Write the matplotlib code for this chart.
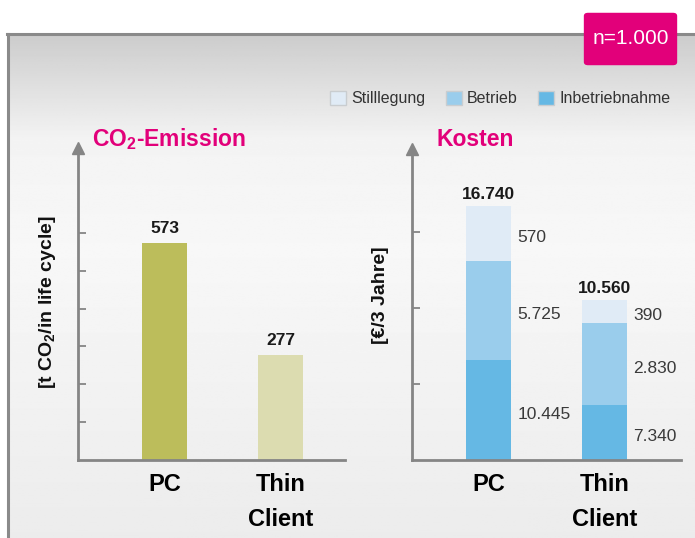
import matplotlib.pyplot as plt
import numpy as np
from matplotlib.patches import Patch, FancyBboxPatch

# data
categories = ["PC", "Thin\nClient"]
co2_values = [573, 277]
co2_ticks = [100, 200, 300, 400, 500, 600]

cost_totals = [16740, 10560]
inbetrieb_labels = [10445, 7340]
betrieb_labels = [5725, 2830]
stilllegung_labels = [570, 390]
# segment heights as drawn in the reference (not to scale with the labels)
inbetrieb_drawn = [6590, 3625]
betrieb_drawn = [6525, 5410]
stilllegung_drawn = [3625, 1525]
cost_ticks = [5000, 10000, 15000]

legend_names = ["Stilllegung", "Betrieb", "Inbetriebnahme"]

FAM = ["Liberation Sans Narrow", "Liberation Sans", "DejaVu Sans"]
plt.rcParams["font.family"] = FAM
plt.rcParams["mathtext.fontset"] = "custom"

W, H = 695, 538
MAGENTA = "#e2007a"
GRAY = "#858585"
C_CO2 = ["#bcbd5b", "#dcdcb0"]
C_INB, C_BET, C_STI = "#65b8e4", "#9acdec", "#e0ebf6"


def fx(x):
    return x / W


def fy(y):
    return 1 - y / H


fig = plt.figure(figsize=(W / 100, H / 100), dpi=100)

# panel background gradient
bg = fig.add_axes([fx(8), 0, 1 - fx(8), fy(33)])
ys = np.linspace(33, 538, 300)
vals = np.interp(ys, [33, 140, 250, 538], [0.80, 0.955, 0.97, 0.925])
bg.imshow(np.repeat(vals[:, None], 2, axis=1), cmap="gray", vmin=0, vmax=1,
          aspect="auto", extent=[0, 1, 0, 1])
bg.set_axis_off()
fig.add_artist(plt.Line2D([fx(7), 1], [fy(34), fy(34)], color="#8a8a8a", lw=2.2))
fig.add_artist(plt.Line2D([fx(8), fx(8)], [0, fy(34)], color="#8a8a8a", lw=2.2))

# n=1.000 badge
badge = FancyBboxPatch((fx(588), fy(62)), fx(85), fy(16) - fy(62),
                       boxstyle="round,pad=0.006", transform=fig.transFigure,
                       facecolor=MAGENTA, edgecolor="none", zorder=5)
fig.add_artist(badge)
fig.text(fx(631), fy(39), "n=1.000", color="white", fontsize=15,
         ha="center", va="center", zorder=6)


def setup_axes(ax):
    for s in ["top", "right"]:
        ax.spines[s].set_visible(False)
    for s in ["left", "bottom"]:
        ax.spines[s].set_color(GRAY)
        ax.spines[s].set_linewidth(2)
    ax.set_facecolor("none")
    ax.tick_params(axis="y", direction="in", length=6, width=1.3,
                   color=GRAY, labelleft=False)
    ax.tick_params(axis="x", length=0, pad=9.5, labelsize=17)
    ax.plot(0, 1, marker="^", color=GRAY, markersize=8, transform=ax.transAxes,
            clip_on=False)
    ax.set_xticks(range(len(categories)))
    ax.set_xticklabels(categories, fontweight="bold", linespacing=1.65)


bw = 45 / 116

# CO2 chart
ax1 = fig.add_axes([fx(78), fy(460), fx(345) - fx(78), fy(148) - fy(460)])
ax1.bar(range(len(categories)), co2_values, width=bw, color=C_CO2)
for i, v in enumerate(co2_values):
    ax1.annotate(str(v), (i, v), xytext=(0, 5), textcoords="offset points",
                 ha="center", va="bottom", fontsize=12.5, fontweight="bold",
                 color="#1a1a1a")
ax1.set_xlim(-(164.5 - 78) / 116, 1 + (345 - 280.5) / 116)
ax1.set_ylim(0, (460 - 148) / (217 / 573))
ax1.set_yticks(co2_ticks)
setup_axes(ax1)

# cost chart
ax2 = fig.add_axes([fx(412), fy(460), fx(681) - fx(412), fy(149) - fy(460)])
x = np.arange(len(categories))
ax2.bar(x, inbetrieb_drawn, width=bw, color=C_INB)
ax2.bar(x, betrieb_drawn, width=bw, bottom=inbetrieb_drawn, color=C_BET)
bot2 = np.array(inbetrieb_drawn) + np.array(betrieb_drawn)
ax2.bar(x, stilllegung_drawn, width=bw, bottom=bot2, color=C_STI)


def fmt(v):
    return f"{v:,}".replace(",", ".")


for i in x:
    segs = [(0, inbetrieb_drawn[i], inbetrieb_labels[i]),
            (inbetrieb_drawn[i], betrieb_drawn[i], betrieb_labels[i]),
            (bot2[i], stilllegung_drawn[i], stilllegung_labels[i])]
    for b, h, lab in segs:
        ax2.annotate(fmt(lab), (i + bw / 2, b + h / 2), xytext=(4.5, -3),
                     textcoords="offset points", ha="left", va="center",
                     fontsize=12.5, color="#3a3a3a")
    total = inbetrieb_drawn[i] + betrieb_drawn[i] + stilllegung_drawn[i]
    ax2.annotate(fmt(cost_totals[i]), (i, total), xytext=(0, 3),
                 textcoords="offset points", ha="center", va="bottom",
                 fontsize=12.5, fontweight="bold", color="#1a1a1a")
ax2.set_xlim(-(488.5 - 412) / 116, 1 + (681 - 604.5) / 116)
ax2.set_ylim(0, (460 - 149) / (254 / 16740))
ax2.set_yticks(cost_ticks)
setup_axes(ax2)

# titles and axis labels
fig.text(fx(92), fy(139), r"CO$_\mathdefault{2}$-Emission", color=MAGENTA,
         fontsize=16.5, fontweight="bold", ha="left", va="center")
fig.text(fx(437), fy(139), "Kosten", color=MAGENTA, fontsize=16.5,
         fontweight="bold", ha="left", va="center")
fig.text(fx(48), fy(302), r"[t CO$_\mathdefault{2}$/in life cycle]", rotation=90,
         fontsize=14, fontweight="bold", ha="center", va="center", color="#111111")
fig.text(fx(381), fy(295), "[€/3 Jahre]", rotation=90, fontsize=14,
         fontweight="bold", ha="center", va="center", color="#111111")

# legend
handles = [Patch(facecolor=c, edgecolor="#c9cdd0", linewidth=1)
           for c in [C_STI, C_BET, C_INB]]
fig.legend(handles, legend_names, loc="center left",
           bbox_to_anchor=(fx(316), fy(98.5)), ncol=3, frameon=False,
           fontsize=11.5, handlelength=1.0, handleheight=1.0,
           handletextpad=0.3, columnspacing=1.3, labelcolor="#333333")

fig.savefig("out.png", dpi=100)
